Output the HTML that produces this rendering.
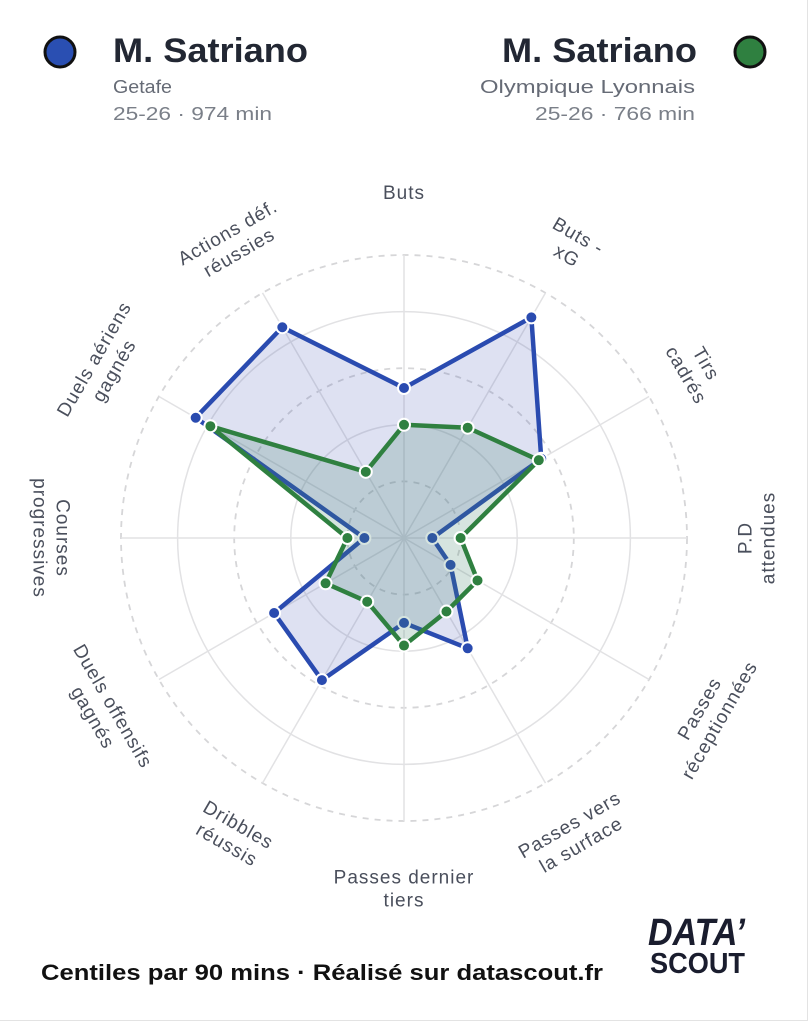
<!DOCTYPE html>
<html><head><meta charset="utf-8"><style>
html,body{margin:0;padding:0;background:#fff}
body{width:809px;height:1024px;overflow:hidden;position:relative;font-family:"Liberation Sans",sans-serif}
.card{position:absolute;left:0;top:0;width:807px;height:1020px;border:1px solid #e3e3e3;border-top:none;border-left:none}
</style></head><body><div class="card"></div>
<svg id="s" width="809" height="1024" style="position:absolute;left:0;top:0" xmlns="http://www.w3.org/2000/svg">
<circle cx="60" cy="52" r="15" fill="#2a4fb2" stroke="#111" stroke-width="3"/>
<circle cx="750" cy="52" r="15" fill="#2f8040" stroke="#111" stroke-width="3"/>
<text x="113" y="62" font-size="34" font-weight="bold" fill="#222733" textLength="195" lengthAdjust="spacingAndGlyphs">M. Satriano</text>
<text x="113" y="93" font-size="18" fill="#666b76" textLength="59" lengthAdjust="spacingAndGlyphs">Getafe</text>
<text x="113" y="120" font-size="18" fill="#7a7f88" textLength="159" lengthAdjust="spacingAndGlyphs">25-26 · 974 min</text>
<text x="502" y="62" font-size="34" font-weight="bold" fill="#222733" textLength="195" lengthAdjust="spacingAndGlyphs">M. Satriano</text>
<text x="480" y="93" font-size="18" fill="#666b76" textLength="215" lengthAdjust="spacingAndGlyphs">Olympique Lyonnais</text>
<text x="535" y="120" font-size="18" fill="#7a7f88" textLength="160" lengthAdjust="spacingAndGlyphs">25-26 · 766 min</text>
<g id="g"></g>
<text x="41" y="980" font-size="22" font-weight="bold" fill="#111" textLength="562" lengthAdjust="spacingAndGlyphs">Centiles par 90 mins · Réalisé sur datascout.fr</text>
<text x="648" y="945" font-size="38" font-weight="bold" font-style="italic" fill="#1a1d2e" textLength="97" lengthAdjust="spacingAndGlyphs">DATA’</text>
<text x="650" y="973" font-size="29" font-weight="bold" fill="#1a1d2e" textLength="95" lengthAdjust="spacingAndGlyphs">SCOUT</text>
</svg>
<script>
var cx=404,cy=538,R=283,g=document.getElementById('g'),h='';
function P(a,r){var t=a*Math.PI/180;return [cx+r*Math.sin(t),cy-r*Math.cos(t)];}
[1,2,3,4,5].forEach(function(i){var d=(i%2==1);h+='<circle cx="'+cx+'" cy="'+cy+'" r="'+(R*i/5)+'" fill="none" stroke="'+(d?'#d6d6d8':'#e2e2e4')+'" stroke-width="'+(d?1.8:1.5)+'"'+(d?' stroke-dasharray="6 6"':'')+'/>';});
for(var k=0;k<12;k++){var p=P(k*30,R);h+='<line x1="'+cx+'" y1="'+cy+'" x2="'+p[0]+'" y2="'+p[1]+'" stroke="#e2e2e4" stroke-width="1.5"/>';}
var blue=[.53,.90,.56,.10,.19,.45,.30,.58,.53,.14,.85,.86];
var green=[.40,.45,.55,.20,.30,.30,.38,.26,.32,.20,.79,.27];
function poly(v,c,f){var pts=v.map(function(x,i){return P(i*30,x*R).join(',')}).join(' ');
var s='<polygon points="'+pts+'" fill="'+f+'" stroke="'+c+'" stroke-width="4.5" stroke-linejoin="miter"/>';
v.forEach(function(x,i){var p=P(i*30,x*R);s+='<circle cx="'+p[0]+'" cy="'+p[1]+'" r="6" fill="'+c+'" stroke="#fff" stroke-width="2"/>';});return s;}
h+=poly(blue,'#2a4bb0','rgba(60,80,180,0.17)');
h+=poly(green,'#2f8040','rgba(70,130,110,0.22)');
var L=[["Buts"],["Buts -","xG"],["Tirs","cadrés"],["P.D","attendues"],["Passes","réceptionnées"],["Passes vers","la surface"],["Passes dernier","tiers"],["Dribbles","réussis"],["Duels offensifs","gagnés"],["Courses","progressives"],["Duels aériens","gagnés"],["Actions déf.","réussies"]];
var LR=[346,338,338,352,352,342,350,342,347,352,347,342];
L.forEach(function(l,i){var a=i*30,p=P(a,LR[i]);var rot=(a>=90&&a<=270)?a-180:a;
var n=l.length,s='<text transform="translate('+p[0]+','+p[1]+') rotate('+rot+')" font-size="19" fill="#4a4f5c" text-anchor="middle" letter-spacing="1">';
l.forEach(function(t,j){s+='<tspan x="0" y="'+((j-(n-1)/2)*23+7)+'">'+t+'</tspan>';});h+=s+'</text>';});
g.innerHTML=h;
</script>
</body></html>
